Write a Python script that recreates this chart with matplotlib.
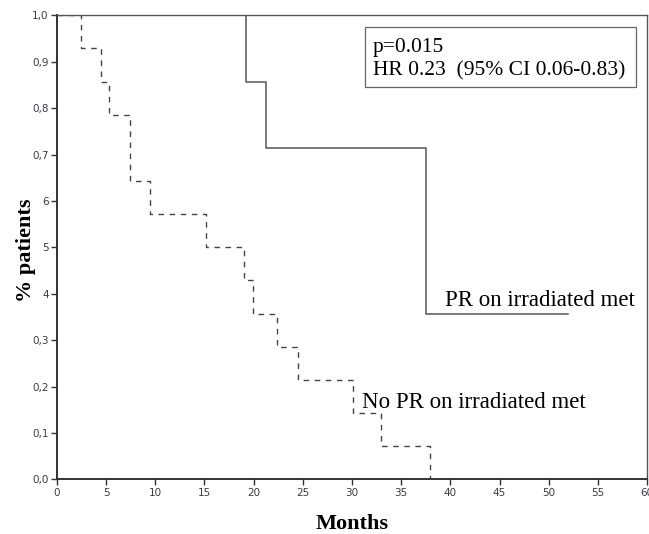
import matplotlib
matplotlib.use("Agg")
import matplotlib.pyplot as plt
from matplotlib.patches import Rectangle

# Kaplan-Meier step data (time in months, survival fraction)
pr_times = [0, 19.2, 21.3, 37.5, 52.0]
pr_surv = [1.0, 0.857, 0.714, 0.357, 0.357]

nopr_times = [0, 2.4, 4.5, 5.3, 7.4, 9.5, 15.2, 19.0, 19.9, 22.4, 24.5, 30.1, 32.9, 37.9]
nopr_surv = [1.0, 0.929, 0.857, 0.786, 0.643, 0.571, 0.500, 0.429, 0.357, 0.286, 0.214, 0.143, 0.071, 0.0]

x_ticks = list(range(0, 61, 5))
y_ticks = [0.0, 0.1, 0.2, 0.3, 0.4, 0.5, 0.6, 0.7, 0.8, 0.9, 1.0]
y_tick_labels = ["0,0", "0,1", "0,2", "0,3", "4", "5", "6", "0,7", "0,8", "0,9", "1,0"]

stat_lines = ["p=0.015", "HR 0.23  (95% CI 0.06-0.83)"]

fig = plt.figure(figsize=(6.49, 5.34), dpi=100)
ax = fig.add_axes([0.0878, 0.1024, 0.9092, 0.8689])

ax.step(pr_times, pr_surv, where="post", color="#555555", lw=1.1)
ax.step(nopr_times, nopr_surv, where="post", color="#444444", lw=1.0,
        linestyle=(0, (4, 4)))

ax.set_xlim(0, 60)
ax.set_ylim(0, 1.0)
ax.set_xticks(x_ticks)
ax.set_xticklabels([str(v) for v in x_ticks])
ax.set_yticks(y_ticks)
ax.set_yticklabels(y_tick_labels)
ax.tick_params(axis="both", direction="out", length=4, width=1.0, color="#333333",
               labelsize=7.5, labelcolor="#3a3a4a", pad=2)
for s in ax.spines.values():
    s.set_color("#555555")
    s.set_linewidth(1.0)
ax.spines["left"].set_color("#333333")
ax.spines["bottom"].set_color("#333333")
ax.spines["left"].set_linewidth(1.4)
ax.spines["bottom"].set_linewidth(1.4)

serif = ["Liberation Serif", "DejaVu Serif"]
ax.set_ylabel("% patients", fontsize=16, fontweight="bold", family=serif, va="center")
ax.yaxis.set_label_coords(-0.052, 0.494)
ax.set_xlabel("Months", fontsize=16, fontweight="bold", family=serif, labelpad=12)

# statistics box
ax.add_patch(Rectangle((0.522, 0.8455), 0.459, 0.1295, transform=ax.transAxes,
                       fc="white", ec="#666666", lw=0.9, zorder=3))
ax.text(0.5356, 0.921, stat_lines[0], transform=ax.transAxes, ha="left", va="baseline",
        fontsize=15.5, family=serif, zorder=4)
ax.text(0.5356, 0.8713, stat_lines[1], transform=ax.transAxes, ha="left", va="baseline",
        fontsize=15.5, family=serif, zorder=4)

ax.text(39.5, 0.374, "PR on irradiated met", ha="left", va="baseline", fontsize=16.5, family=serif)
ax.text(31.0, 0.154, "No PR on irradiated met", ha="left", va="baseline", fontsize=16.5, family=serif)

fig.savefig("out.png", dpi=100)
